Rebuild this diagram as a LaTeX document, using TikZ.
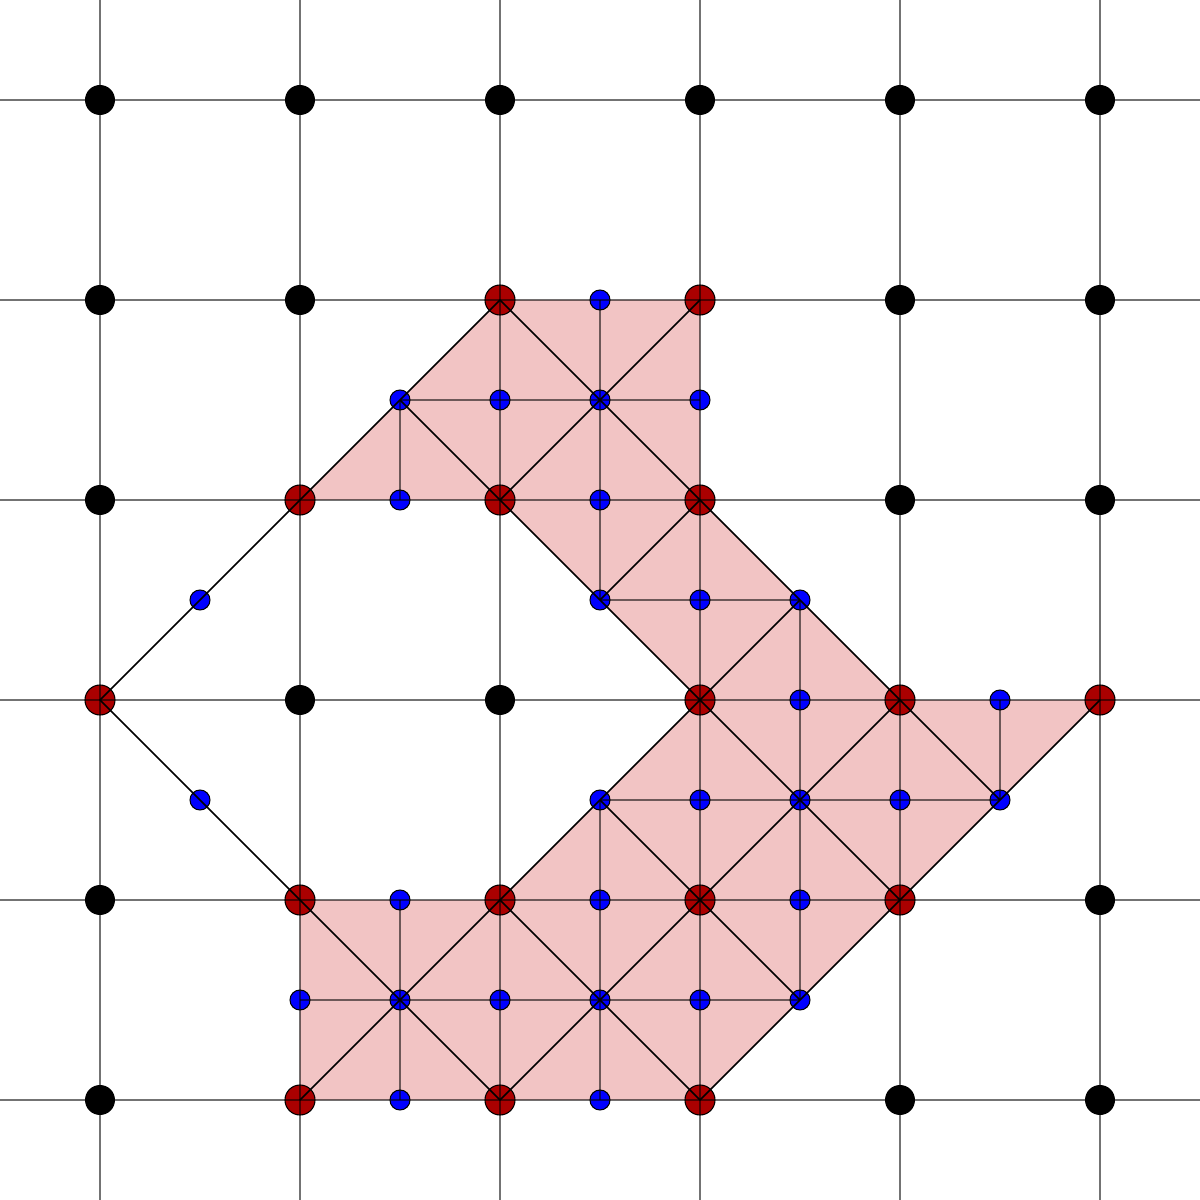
\documentclass[tikz,border=0pt]{standalone}
\definecolor{meshpink}{RGB}{242,196,196}
\definecolor{nodered}{RGB}{170,0,0}
\begin{document}
\begin{tikzpicture}[gridline/.style = {black,draw opacity=0.55,line width=0.7pt},
                    meshline/.style = {black,line width=0.45pt},
                    vertex/.style = {fill=nodered,draw=black,line width=0.3pt},
                    midpt/.style = {fill=blue,draw=black,line width=0.3pt}]
                        \useasboundingbox (-1,-1) rectangle (11,11);

                        \fill[meshpink] (2,6) -- (4,8) -- (6,8) -- (6,6) -- (8,4) -- (10,4) -- (6,0) -- (2,0)
                            -- (2,2) -- (4,2) -- (6,4) -- (4,6) -- cycle;

                        \foreach \x/\y in {4/8,6/8,2/6,4/6,6/6,0/4,6/4,8/4,10/4,2/2,4/2,6/2,8/2,2/0,4/0,6/0}
                            \filldraw[vertex] (\x,\y) circle (0.15);
                        \foreach \x/\y in {5/8,3/7,4/7,5/7,6/7,3/6,5/6,1/5,5/5,6/5,7/5,7/4,9/4,1/3,5/3,6/3,7/3,8/3,9/3,
                                           3/2,5/2,7/2,2/1,3/1,4/1,5/1,6/1,7/1,3/0,5/0}
                            \filldraw[midpt] (\x,\y) circle (0.1);

                        \foreach \i in {0,2,...,10} {
                            \draw[gridline] (\i,-1) -- (\i,11);
                            \draw[gridline] (-1,\i) -- (11,\i);
                        }

                        \foreach \x/\y in {0/10,2/10,4/10,6/10,8/10,10/10,0/8,2/8,8/8,10/8,0/6,8/6,10/6,2/4,4/4,0/2,10/2,0/0,8/0,10/0}
                            \fill (\x,\y) circle (0.15);

                        % diagonals
                        \draw[meshline] (4,8) -- (6,6) (3,7) -- (4,6) (4,6) -- (6,4) (6,6) -- (8,4) (6,4) -- (8,2)
                            (8,4) -- (9,3) (2,2) -- (4,0) (4,2) -- (6,0) (5,3) -- (7,1) (0,4) -- (2,2);
                        \draw[meshline] (2,6) -- (4,8) (4,6) -- (6,8) (5,5) -- (6,6) (6,4) -- (7,5) (4,2) -- (6,4)
                            (6,0) -- (10,4) (2,0) -- (4,2) (4,0) -- (8,4) (0,4) -- (2,6);
                        % half lines
                        \draw[gridline] (3,7) -- (6,7) (5,5) -- (7,5) (5,3) -- (9,3) (2,1) -- (7,1);
                        \draw[gridline] (3,7) -- (3,6) (3,2) -- (3,0) (5,8) -- (5,5) (5,3) -- (5,0) (7,5) -- (7,1) (9,4) -- (9,3);
                    \end{tikzpicture}
\end{document}
